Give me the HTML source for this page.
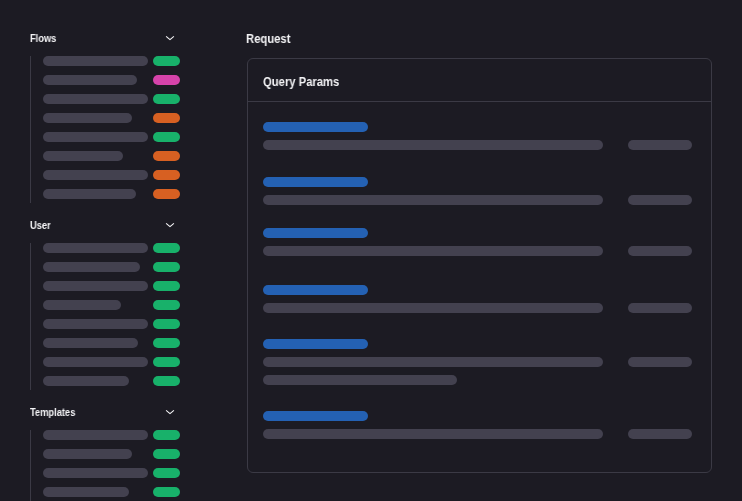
<!DOCTYPE html>
<html><head><meta charset="utf-8"><style>
html,body{margin:0;padding:0;}
body{width:742px;height:501px;overflow:hidden;background:#1c1b23;position:relative;font-family:"Liberation Sans",sans-serif;}
.b{position:absolute;height:10px;border-radius:5px;}
.h{position:absolute;color:#f4f4f6;font-size:10px;font-weight:bold;line-height:12px;white-space:nowrap;transform:scaleX(0.93);transform-origin:0 0;will-change:transform;}
.h2{position:absolute;color:#f4f4f6;font-size:12.3px;font-weight:bold;line-height:14px;white-space:nowrap;transform:scaleX(0.915);transform-origin:0 0;will-change:transform;}
.chev{position:absolute;}
.vl{position:absolute;width:1px;background:#3b3a45;}
.card{position:absolute;left:247px;top:58px;width:463px;height:413px;border:1px solid #3b3a45;border-radius:6px;}
.sep{position:absolute;left:248px;top:101px;width:463px;height:1px;background:#3b3a45;}
</style></head><body>
<div class="h" style="left:30px;top:33.4px">Flows</div>
<svg class="chev" style="left:160px;top:30px" width="20" height="16" viewBox="160 30 20 16"><path d="M166.1 36.4 L170 39.6 L173.9 36.4" fill="none" stroke="#f4f4f6" stroke-width="1.15" stroke-linecap="butt" stroke-linejoin="round"/></svg>
<div class="vl" style="left:30px;top:56px;height:147px"></div>
<div class="b" style="left:43px;top:56px;width:105px;background:#43414f"></div>
<div class="b" style="left:153px;top:56px;width:27px;background:#18b16a"></div>
<div class="b" style="left:43px;top:75px;width:94px;background:#43414f"></div>
<div class="b" style="left:153px;top:75px;width:27px;background:#d643aa"></div>
<div class="b" style="left:43px;top:94px;width:105px;background:#43414f"></div>
<div class="b" style="left:153px;top:94px;width:27px;background:#18b16a"></div>
<div class="b" style="left:43px;top:113px;width:89px;background:#43414f"></div>
<div class="b" style="left:153px;top:113px;width:27px;background:#d76022"></div>
<div class="b" style="left:43px;top:132px;width:105px;background:#43414f"></div>
<div class="b" style="left:153px;top:132px;width:27px;background:#18b16a"></div>
<div class="b" style="left:43px;top:151px;width:80px;background:#43414f"></div>
<div class="b" style="left:153px;top:151px;width:27px;background:#d76022"></div>
<div class="b" style="left:43px;top:170px;width:105px;background:#43414f"></div>
<div class="b" style="left:153px;top:170px;width:27px;background:#d76022"></div>
<div class="b" style="left:43px;top:189px;width:93px;background:#43414f"></div>
<div class="b" style="left:153px;top:189px;width:27px;background:#d76022"></div>
<div class="h" style="left:30px;top:220.4px">User</div>
<svg class="chev" style="left:160px;top:217px" width="20" height="16" viewBox="160 217 20 16"><path d="M166.1 223.4 L170 226.6 L173.9 223.4" fill="none" stroke="#f4f4f6" stroke-width="1.15" stroke-linecap="butt" stroke-linejoin="round"/></svg>
<div class="vl" style="left:30px;top:243px;height:147px"></div>
<div class="b" style="left:43px;top:243px;width:105px;background:#43414f"></div>
<div class="b" style="left:153px;top:243px;width:27px;background:#18b16a"></div>
<div class="b" style="left:43px;top:262px;width:97px;background:#43414f"></div>
<div class="b" style="left:153px;top:262px;width:27px;background:#18b16a"></div>
<div class="b" style="left:43px;top:281px;width:105px;background:#43414f"></div>
<div class="b" style="left:153px;top:281px;width:27px;background:#18b16a"></div>
<div class="b" style="left:43px;top:300px;width:78px;background:#43414f"></div>
<div class="b" style="left:153px;top:300px;width:27px;background:#18b16a"></div>
<div class="b" style="left:43px;top:319px;width:105px;background:#43414f"></div>
<div class="b" style="left:153px;top:319px;width:27px;background:#18b16a"></div>
<div class="b" style="left:43px;top:338px;width:95px;background:#43414f"></div>
<div class="b" style="left:153px;top:338px;width:27px;background:#18b16a"></div>
<div class="b" style="left:43px;top:357px;width:105px;background:#43414f"></div>
<div class="b" style="left:153px;top:357px;width:27px;background:#18b16a"></div>
<div class="b" style="left:43px;top:376px;width:86px;background:#43414f"></div>
<div class="b" style="left:153px;top:376px;width:27px;background:#18b16a"></div>
<div class="h" style="left:30px;top:407.4px">Templates</div>
<svg class="chev" style="left:160px;top:404px" width="20" height="16" viewBox="160 404 20 16"><path d="M166.1 410.4 L170 413.6 L173.9 410.4" fill="none" stroke="#f4f4f6" stroke-width="1.15" stroke-linecap="butt" stroke-linejoin="round"/></svg>
<div class="vl" style="left:30px;top:430px;height:90px"></div>
<div class="b" style="left:43px;top:430px;width:105px;background:#43414f"></div>
<div class="b" style="left:153px;top:430px;width:27px;background:#18b16a"></div>
<div class="b" style="left:43px;top:449px;width:89px;background:#43414f"></div>
<div class="b" style="left:153px;top:449px;width:27px;background:#18b16a"></div>
<div class="b" style="left:43px;top:468px;width:105px;background:#43414f"></div>
<div class="b" style="left:153px;top:468px;width:27px;background:#18b16a"></div>
<div class="b" style="left:43px;top:487px;width:86px;background:#43414f"></div>
<div class="b" style="left:153px;top:487px;width:27px;background:#18b16a"></div>
<div class="h2" style="left:246px;top:31.5px">Request</div>
<div class="card"></div>
<div class="h2" style="left:263px;top:74.5px">Query Params</div>
<div class="sep"></div>
<div class="b" style="left:263px;top:122px;width:105px;background:#2461b3"></div>
<div class="b" style="left:263px;top:140px;width:340px;background:#43414f"></div>
<div class="b" style="left:628px;top:140px;width:64px;background:#43414f"></div>
<div class="b" style="left:263px;top:177px;width:105px;background:#2461b3"></div>
<div class="b" style="left:263px;top:195px;width:340px;background:#43414f"></div>
<div class="b" style="left:628px;top:195px;width:64px;background:#43414f"></div>
<div class="b" style="left:263px;top:228px;width:105px;background:#2461b3"></div>
<div class="b" style="left:263px;top:246px;width:340px;background:#43414f"></div>
<div class="b" style="left:628px;top:246px;width:64px;background:#43414f"></div>
<div class="b" style="left:263px;top:285px;width:105px;background:#2461b3"></div>
<div class="b" style="left:263px;top:303px;width:340px;background:#43414f"></div>
<div class="b" style="left:628px;top:303px;width:64px;background:#43414f"></div>
<div class="b" style="left:263px;top:339px;width:105px;background:#2461b3"></div>
<div class="b" style="left:263px;top:357px;width:340px;background:#43414f"></div>
<div class="b" style="left:628px;top:357px;width:64px;background:#43414f"></div>
<div class="b" style="left:263px;top:411px;width:105px;background:#2461b3"></div>
<div class="b" style="left:263px;top:429px;width:340px;background:#43414f"></div>
<div class="b" style="left:628px;top:429px;width:64px;background:#43414f"></div>
<div class="b" style="left:263px;top:375px;width:194px;background:#43414f"></div>
</body></html>
